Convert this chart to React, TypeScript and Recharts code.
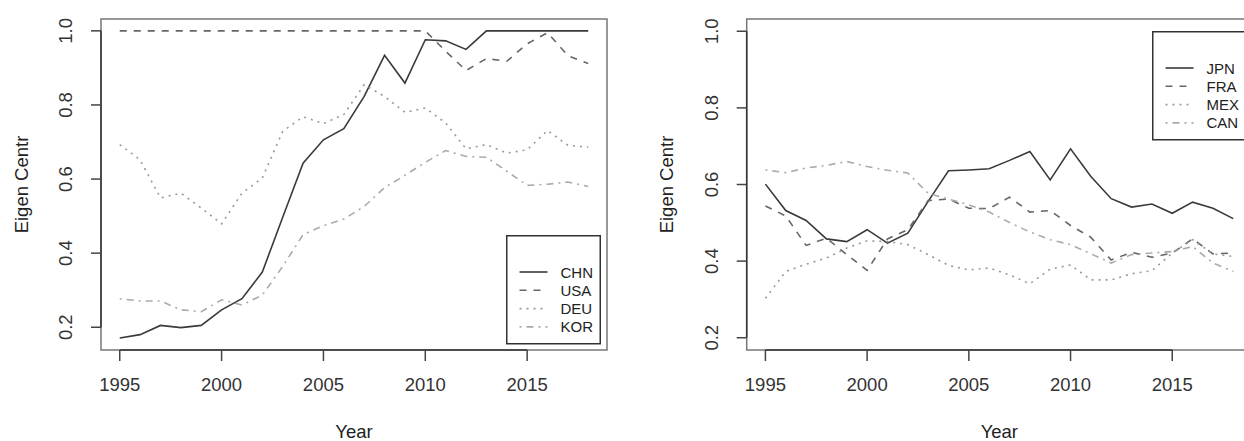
import React from 'react';
import { LineChart, Line, XAxis, YAxis, ReferenceArea, ReferenceLine, Legend } from 'recharts';

const years = [1995, 1996, 1997, 1998, 1999, 2000, 2001, 2002, 2003, 2004, 2005, 2006, 2007, 2008, 2009, 2010, 2011, 2012, 2013, 2014, 2015, 2016, 2017, 2018];

// left panel
const chn = [0.171, 0.18, 0.205, 0.199, 0.205, 0.247, 0.277, 0.349, 0.497, 0.643, 0.706, 0.736, 0.823, 0.934, 0.859, 0.976, 0.973, 0.95, 1.0, 1.0, 1.0, 1.0, 1.0, 1.0];
const usa = [1.0, 1.0, 1.0, 1.0, 1.0, 1.0, 1.0, 1.0, 1.0, 1.0, 1.0, 1.0, 1.0, 1.0, 1.0, 1.0, 0.945, 0.893, 0.925, 0.918, 0.965, 0.995, 0.933, 0.912];
const deu = [0.693, 0.652, 0.549, 0.562, 0.522, 0.479, 0.562, 0.603, 0.729, 0.768, 0.75, 0.774, 0.855, 0.823, 0.78, 0.792, 0.751, 0.682, 0.693, 0.67, 0.679, 0.731, 0.691, 0.686];
const kor = [0.277, 0.271, 0.271, 0.247, 0.242, 0.274, 0.26, 0.287, 0.364, 0.45, 0.474, 0.492, 0.526, 0.577, 0.61, 0.645, 0.677, 0.661, 0.659, 0.621, 0.583, 0.586, 0.592, 0.58];

// right panel
const jpn = [0.601, 0.532, 0.506, 0.458, 0.451, 0.482, 0.447, 0.473, 0.556, 0.636, 0.638, 0.641, 0.663, 0.686, 0.612, 0.693, 0.621, 0.563, 0.541, 0.549, 0.525, 0.554, 0.538, 0.511];
const fra = [0.544, 0.518, 0.441, 0.46, 0.417, 0.376, 0.458, 0.482, 0.558, 0.562, 0.538, 0.537, 0.567, 0.528, 0.532, 0.493, 0.462, 0.403, 0.423, 0.41, 0.421, 0.458, 0.419, 0.421];
const mex = [0.303, 0.373, 0.392, 0.408, 0.434, 0.453, 0.451, 0.443, 0.417, 0.389, 0.377, 0.382, 0.364, 0.341, 0.379, 0.39, 0.351, 0.351, 0.367, 0.375, 0.421, 0.456, 0.419, 0.412];
const can = [0.638, 0.631, 0.643, 0.65, 0.66, 0.647, 0.637, 0.63, 0.577, 0.562, 0.547, 0.528, 0.501, 0.476, 0.456, 0.443, 0.419, 0.395, 0.417, 0.421, 0.425, 0.438, 0.395, 0.373];

const xTicks = [1995, 2000, 2005, 2010, 2015];
const yTicks = [0.2, 0.4, 0.6, 0.8, 1.0];

const FONT = '"Liberation Sans", Arial, Helvetica, sans-serif';
const X_DOMAIN: [number, number] = [1994.08, 2018.92];

const styles = [
  { color: '#3a3a3a', dash: undefined },
  { color: '#666666', dash: '7 7' },
  { color: '#999999', dash: '2 5' },
  { color: '#aaaaaa', dash: '2 5 7 5' },
];

type Series = { name: string; values: number[]; color: string; dash?: string };

const leftSeries: Series[] = [
  { name: 'CHN', values: chn, ...styles[0] },
  { name: 'USA', values: usa, ...styles[1] },
  { name: 'DEU', values: deu, ...styles[2] },
  { name: 'KOR', values: kor, ...styles[3] },
];

const rightSeries: Series[] = [
  { name: 'JPN', values: jpn, ...styles[0] },
  { name: 'FRA', values: fra, ...styles[1] },
  { name: 'MEX', values: mex, ...styles[2] },
  { name: 'CAN', values: can, ...styles[3] },
];

const toRows = (series: Series[]) =>
  years.map((year, i) => {
    const row: Record<string, number> = { year };
    series.forEach((s) => { row[s.name] = s.values[i]; });
    return row;
  });

const YTick = (props: any) => {
  const { x, y, payload } = props;
  return (
    <text x={x} y={y} transform={`rotate(-90, ${x}, ${y})`} textAnchor="middle" dominantBaseline="central"
      fontSize={18.5} fill="#333" fontFamily={FONT}>
      {Number(payload.value).toFixed(1)}
    </text>
  );
};

const YTitle = (props: any) => {
  const vb = props.viewBox || {};
  const x = vb.x + vb.width - 80;
  const y = vb.y + vb.height / 2;
  return (
    <text x={x} y={y} transform={`rotate(-90, ${x}, ${y})`} textAnchor="middle" dominantBaseline="central"
      fontSize={18.5} fill="#222" fontFamily={FONT}>
      Eigen Centr
    </text>
  );
};

const LegendBox = ({ series }: { series: Series[] }) => (
  <svg width={95} height={110} style={{ display: 'block' }}>
    <rect x={0.75} y={0.75} width={93.5} height={108} fill="#fff" stroke="#333" strokeWidth={1.5} />
    {series.map((s, i) => {
      const y = 37 + i * 18.3;
      return (
        <g key={s.name}>
          <line x1={13.5} x2={41.5} y1={y} y2={y} stroke={s.color} strokeWidth={1.6} strokeDasharray={s.dash} />
          <text x={54.5} y={y} dominantBaseline="central" fontSize={15} fill="#222" fontFamily={FONT}>{s.name}</text>
        </g>
      );
    })}
  </svg>
);

type PanelProps = {
  series: Series[];
  width: number;
  axisWidth: number;
  yDomain: [number, number];
  legendPos: { left: number; top: number };
};

const Panel = ({ series, width, axisWidth, yDomain, legendPos }: PanelProps) => (
  <LineChart width={width} height={441} data={toRows(series)} margin={{ top: 19, right: 10, bottom: 0, left: 0 }}>
    <XAxis
      dataKey="year"
      type="number"
      domain={X_DOMAIN}
      ticks={xTicks}
      height={91}
      axisLine={false}
      tickSize={11}
      tickMargin={17}
      tickLine={{ stroke: '#444', strokeWidth: 1.5 }}
      tick={{ fontSize: 18.5, fill: '#333', fontFamily: FONT }}
      label={{ value: 'Year', position: 'insideBottom', offset: 3, fontSize: 18.5, fill: '#222', fontFamily: FONT }}
    />
    <YAxis
      type="number"
      domain={yDomain}
      ticks={yTicks}
      width={axisWidth}
      axisLine={false}
      tickSize={10}
      tickMargin={25}
      tickLine={{ stroke: '#444', strokeWidth: 1.5 }}
      tick={<YTick />}
      label={{ content: (p: any) => <YTitle {...p} /> }}
    />
    <ReferenceArea x1={X_DOMAIN[0]} x2={X_DOMAIN[1]} y1={yDomain[0]} y2={yDomain[1]}
      fill="none" stroke="#777" strokeWidth={1.5} ifOverflow="visible" />
    <ReferenceLine segment={[{ x: xTicks[0], y: yDomain[0] }, { x: xTicks[xTicks.length - 1], y: yDomain[0] }]}
      stroke="#333" strokeWidth={1.5} ifOverflow="visible" />
    <ReferenceLine segment={[{ x: X_DOMAIN[0], y: yTicks[0] }, { x: X_DOMAIN[0], y: yTicks[yTicks.length - 1] }]}
      stroke="#333" strokeWidth={1.5} ifOverflow="visible" />
    {series.map((s) => (
      <Line key={s.name} dataKey={s.name} type="linear" stroke={s.color} strokeWidth={1.6}
        strokeDasharray={s.dash} dot={false} activeDot={false} isAnimationActive={false} />
    ))}
    <Legend
      layout="horizontal"
      verticalAlign="middle"
      align="center"
      content={() => <LegendBox series={series} />}
      wrapperStyle={{ left: legendPos.left, top: legendPos.top, width: 95, height: 110 }}
    />
  </LineChart>
);

export default function App() {
  return (
    <div style={{ position: 'absolute', left: 0, top: 0, width: 1244, height: 441, overflow: 'hidden', background: '#fff', fontFamily: FONT }}>
      <div style={{ position: 'absolute', left: 0, top: 0 }}>
        <Panel series={leftSeries} width={617} axisWidth={101} yDomain={[0.1386, 1.032]} legendPos={{ left: 506, top: 235 }} />
      </div>
      <div style={{ position: 'absolute', left: 622, top: 0 }}>
        <Panel series={rightSeries} width={640} axisWidth={124.7} yDomain={[0.168, 1.032]} legendPos={{ left: 530, top: 31 }} />
      </div>
    </div>
  );
}
